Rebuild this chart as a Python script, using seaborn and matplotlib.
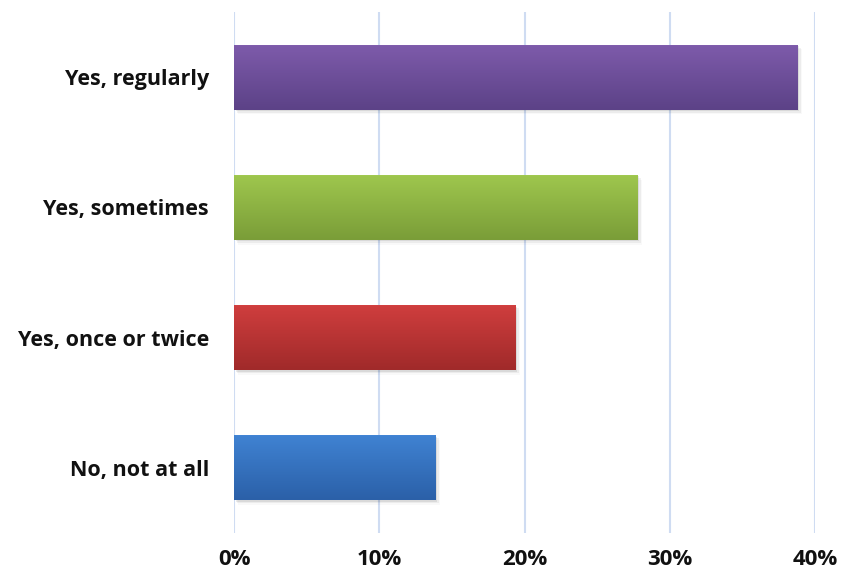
import numpy as np
import pandas as pd
import matplotlib
matplotlib.use("Agg")
import matplotlib.pyplot as plt
import matplotlib.colors as mcolors
from matplotlib.patches import Rectangle
import seaborn as sns

categories = ["Yes, regularly", "Yes, sometimes", "Yes, once or twice", "No, not at all"]
shares = [38.8, 27.8, 19.4, 13.9]
tick_values = [0, 10, 20, 30, 40]
tick_labels = ["0%", "10%", "20%", "30%", "40%"]
top_colors = ["#7e5bab", "#9fc74e", "#d03e3e", "#4083d3"]
bottom_colors = ["#5c4287", "#7a9d38", "#a02a2a", "#2b60a8"]

df = pd.DataFrame({"category": categories, "share": shares})

sns.set_theme(style="white")
plt.rcParams["font.family"] = ["Open Sans", "DejaVu Sans"]

fig = plt.figure(figsize=(8.42, 5.76), dpi=100)
ax = fig.add_axes([0.278, 0.075, 0.690, 0.904])

sns.barplot(data=df, x="share", y="category", order=categories,
            orient="h", width=0.5, color="#888888", ax=ax, zorder=3)

ax.set_xlim(0, 40)
ax.set_ylim(len(categories) - 0.5, -0.5)

# vertical gradient fill with a soft drop shadow for each bar
for patch, c_top, c_bot in zip(ax.patches, top_colors, bottom_colors):
    x0, y0 = patch.get_x(), patch.get_y()
    w, h = patch.get_width(), patch.get_height()
    ct = np.array(mcolors.to_rgb(c_top))
    cb = np.array(mcolors.to_rgb(c_bot))
    t = np.linspace(0, 1, 128)[:, None]
    grad = ct * (1 - t) + cb * t
    grad[:2] = np.clip(ct + 0.06, 0, 1)
    img = grad[:, None, :].repeat(2, axis=1)
    patch.set_facecolor("none")
    patch.set_edgecolor("none")
    for k, a in enumerate([0.08, 0.05, 0.025]):
        off = 0.1 * (k + 1)
        sh = Rectangle((x0 + off, y0 + 0.012 * (k + 1)), w, h,
                       facecolor="black", alpha=a, edgecolor="none", zorder=2)
        ax.add_patch(sh)
    im = ax.imshow(img, extent=(x0, x0 + w, y0 + h, y0), aspect="auto",
                   interpolation="bilinear", zorder=4)
    im.set_clip_path(patch)

ax.set_xticks(tick_values)
ax.set_xticklabels(tick_labels, fontsize=16, fontweight="bold", color="#111111")
ax.tick_params(axis="x", length=0, pad=12)
ax.tick_params(axis="y", length=0, pad=18)
for lbl in ax.get_yticklabels():
    lbl.set_fontsize(15.5)
    lbl.set_fontweight("bold")
    lbl.set_color("#111111")

ax.set_xlabel("")
ax.set_ylabel("")
ax.xaxis.grid(True, color="#cfdcf2", linewidth=1.5, zorder=0)
ax.yaxis.grid(False)
ax.set_axisbelow(True)
for s in ax.spines.values():
    s.set_visible(False)

fig.savefig("out.png", dpi=100, facecolor="white")
